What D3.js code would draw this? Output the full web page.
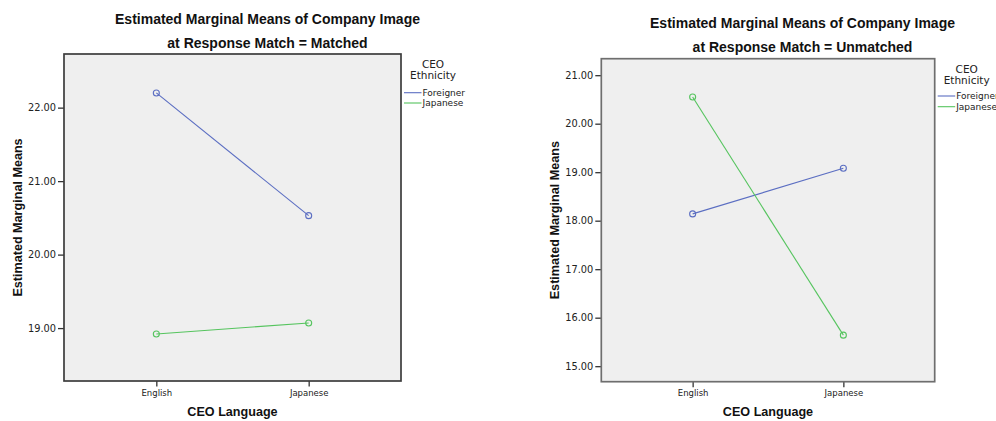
<!DOCTYPE html>
<html>
<head>
<meta charset="utf-8">
<script src="https://cdn.jsdelivr.net/npm/d3@7"></script>
<style>
  html, body { margin: 0; padding: 0; background: #fff; }
  svg { display: block; }
  .title { font-family: "Liberation Sans", Arial, sans-serif; font-weight: bold; font-size: 14px; fill: #111; }
  .axis-title { font-family: "Liberation Sans", Arial, sans-serif; font-weight: bold; font-size: 12.6px; fill: #111; }
  .tick text { font-family: "DejaVu Sans", sans-serif; fill: #222; }
  .legend-title { font-family: "DejaVu Sans", sans-serif; font-size: 10.5px; fill: #222; }
  .legend-label { font-family: "DejaVu Sans", sans-serif; font-size: 9px; fill: #222; }
</style>
</head>
<body>
<svg id="chart" width="996" height="421"></svg>
<script>
// Estimated marginal means of Company Image, split by Response Match
const languages = ["English", "Japanese"];
const ethnicities = ["Foreigner", "Japanese"];
const seriesColors = ["#5b6ec2", "#55c45e"];

const matchedForeigner = [22.20, 20.53];
const matchedJapanese = [18.92, 19.07];
const unmatchedForeigner = [18.14, 19.08];
const unmatchedJapanese = [20.55, 15.64];

const matchedTicks = [19, 20, 21, 22];
const unmatchedTicks = [15, 16, 17, 18, 19, 20, 21];

const panels = [
  {
    subtitle: "at Response Match = Matched",
    series: [matchedForeigner, matchedJapanese],
    ticks: matchedTicks,
    domain: [18.28, 22.73],
    left: 64, top: 54, width: 337, height: 327,
    titleCx: 267.5, titleY: [24, 48],
    yTitleX: 21.5,
    frame: "#3c3c3c",
    legendTitleY: [68, 79], legendRowY: [92.7, 103]
  },
  {
    subtitle: "at Response Match = Unmatched",
    series: [unmatchedForeigner, unmatchedJapanese],
    ticks: unmatchedTicks,
    domain: [14.68, 21.34],
    left: 601.3, top: 58.7, width: 333.4, height: 323,
    titleCx: 802.5, titleY: [28, 52],
    yTitleX: 558.5,
    frame: "#6e6e6e",
    legendTitleY: [73, 84], legendRowY: [96, 106.7]
  }
];

const svg = d3.select("#chart");

panels.forEach(p => {
  const g = svg.append("g").attr("transform", `translate(${p.left},${p.top})`);

  const x = d3.scalePoint().domain(languages).range([0, p.width]).padding(0.606);
  const y = d3.scaleLinear().domain(p.domain).range([p.height, 0]);

  // plot area
  g.append("rect")
    .attr("width", p.width).attr("height", p.height)
    .attr("fill", "#efefef");

  // titles
  svg.append("text").attr("class", "title")
    .attr("x", p.titleCx).attr("y", p.titleY[0]).attr("text-anchor", "middle")
    .text("Estimated Marginal Means of Company Image");
  svg.append("text").attr("class", "title")
    .attr("x", p.titleCx).attr("y", p.titleY[1]).attr("text-anchor", "middle")
    .text(p.subtitle);

  // axes
  const yAxis = g.append("g")
    .call(d3.axisLeft(y).tickValues(p.ticks).tickFormat(d3.format(".2f")).tickSize(6).tickPadding(2));
  yAxis.select(".domain").remove();
  yAxis.selectAll(".tick line").attr("stroke", "#333").attr("stroke-width", 1.3);
  yAxis.selectAll(".tick text").attr("font-size", 9.8).attr("font-family", null);

  const xAxis = g.append("g").attr("transform", `translate(0,${p.height})`)
    .call(d3.axisBottom(x).tickSize(5.5).tickPadding(3));
  xAxis.select(".domain").remove();
  xAxis.selectAll(".tick line").attr("stroke", "#333").attr("stroke-width", 1.3);
  xAxis.selectAll(".tick text").attr("font-size", 8.5).attr("font-family", null);

  // frame
  g.append("rect")
    .attr("width", p.width).attr("height", p.height)
    .attr("fill", "none").attr("stroke", p.frame).attr("stroke-width", 1.7);

  // axis titles
  g.append("text").attr("class", "axis-title")
    .attr("x", p.width / 2).attr("y", 416 - p.top).attr("text-anchor", "middle")
    .text("CEO Language");
  g.append("text").attr("class", "axis-title")
    .attr("transform", `translate(${p.yTitleX - p.left},${p.height / 2}) rotate(-90)`)
    .attr("text-anchor", "middle")
    .text("Estimated Marginal Means");

  // series lines with open circle markers
  const line = d3.line().x((d, i) => x(languages[i])).y(d => y(d));
  p.series.forEach((vals, si) => {
    g.append("path").datum(vals)
      .attr("d", line)
      .attr("fill", "none")
      .attr("stroke", seriesColors[si])
      .attr("stroke-width", 1.1);
    g.selectAll(null).data(vals).join("circle")
      .attr("cx", (d, i) => x(languages[i]))
      .attr("cy", d => y(d))
      .attr("r", 3)
      .attr("fill", "none")
      .attr("stroke", seriesColors[si])
      .attr("stroke-width", 1.1);
  });

  // legend
  const lx = p.left + p.width;
  const titleCx = lx + 32;
  svg.append("text").attr("class", "legend-title")
    .attr("x", titleCx).attr("y", p.legendTitleY[0]).attr("text-anchor", "middle").text("CEO");
  svg.append("text").attr("class", "legend-title")
    .attr("x", titleCx).attr("y", p.legendTitleY[1]).attr("text-anchor", "middle").text("Ethnicity");
  ethnicities.forEach((name, i) => {
    const ly = p.legendRowY[i];
    svg.append("line")
      .attr("x1", lx + 3).attr("x2", lx + 20.5)
      .attr("y1", ly).attr("y2", ly)
      .attr("stroke", seriesColors[i]).attr("stroke-width", 1.1);
    svg.append("text").attr("class", "legend-label")
      .attr("x", lx + 21.5).attr("y", ly + 3.3).text(name);
  });
});
</script>
</body>
</html>
